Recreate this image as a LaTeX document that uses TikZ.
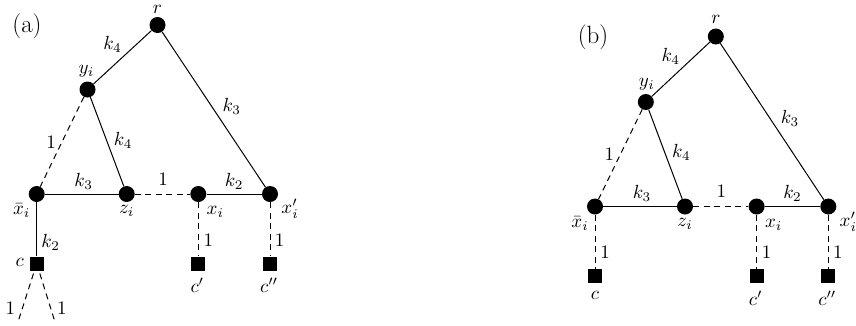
\documentclass[tikz,border=0pt]{standalone}
\newcommand\lb[1]{\scalebox{1.9}{$#1$}}
\begin{document}
\begin{tikzpicture}[x=1pt,y=-1pt,
  vtx/.style={circle,fill=black,inner sep=0pt,minimum size=16pt},
  sq/.style={rectangle,fill=black,inner sep=0pt,minimum size=14pt},
  lbl/.style={inner sep=0pt},
  ttl/.style={font=\fontsize{25}{30}\selectfont,inner sep=0pt},
  ed/.style={line width=1pt},
  dsh/.style={line width=1pt,dash pattern=on 6pt off 4.5pt},
  el/.style={lbl,midway}
]
\useasboundingbox (0,0) rectangle (856,325);

% ---------- (a) ----------
\node[ttl] (ta) at (27,26) {(a)};
\node[vtx] (ar) at (157.5,25) {};
\node[vtx] (ay) at (87.5,89.5) {};
\node[vtx] (axb) at (36.7,194) {};
\node[vtx] (az) at (126.7,194) {};
\node[vtx] (ax) at (198.3,194) {};
\node[vtx] (axp) at (270,194) {};
\node[sq] (ac) at (36.7,263.5) {};
\node[sq] (acp) at (198.3,263.5) {};
\node[sq] (acpp) at (270,263.5) {};
\coordinate (ad1) at (18,322);
\coordinate (ad2) at (55,322);

\node[lbl] (lar) at ([yshift=16pt]ar.center) {\lb{r}};
\node[lbl] (lay) at ([xshift=-1pt,yshift=18pt]ay.center) {\lb{y_i}};
\node[lbl] (laxb) at ([xshift=-15pt,yshift=-17pt]axb.center) {\lb{\bar{x}_i}};
\node[lbl] (laz) at ([yshift=-17pt]az.center) {\lb{z_i}};
\node[lbl] (lax) at ([xshift=17pt,yshift=-18pt]ax.center) {\lb{x_i}};
\node[lbl] (laxp) at ([xshift=20pt,yshift=-15pt]axp.center) {\lb{x'_i}};
\node[lbl] (lac) at ([xshift=-17pt,yshift=1pt]ac.center) {\lb{c}};
\node[lbl] (lacp) at ([xshift=-1pt,yshift=-22pt]acp.center) {\lb{c'}};
\node[lbl] (lacpp) at ([xshift=-1pt,yshift=-22pt]acpp.center) {\lb{c''}};

\draw[ed] (ar) -- node[el,xshift=-10pt,yshift=13pt] {\lb{k_4}} (ay);
\draw[ed] (ar) -- node[el,xshift=18pt,yshift=3pt] {\lb{k_3}} (axp);
\draw[dsh] (ay) -- node[el,xshift=-11pt,yshift=-0.5pt] {\lb{1}} (axb);
\draw[ed] (ay) -- node[el,xshift=16pt,yshift=1.5pt] {\lb{k_4}} (az);
\draw[ed] (axb) -- node[el,xshift=2pt,yshift=13pt] {\lb{k_3}} (az);
\draw[dsh] (az) -- node[el,xshift=0.5pt,yshift=15pt] {\lb{1}} (ax);
\draw[ed] (ax) -- node[el,yshift=13pt] {\lb{k_2}} (axp);
\draw[ed] (axb) -- node[el,xshift=14pt,yshift=-13pt] {\lb{k_2}} (ac);
\draw[dsh] (ax) -- node[el,xshift=10pt,yshift=-11pt] {\lb{1}} (acp);
\draw[dsh] (axp) -- node[el,xshift=9.5pt,yshift=-11pt] {\lb{1}} (acpp);
\draw[dsh] (ac.center) -- node[el,xshift=-17pt,yshift=-16pt] {\lb{1}} (ad1);
\draw[dsh] (ac.center) -- node[el,xshift=16pt,yshift=-16pt] {\lb{1}} (ad2);

% ---------- (b) ----------
\node[ttl] (tb) at (593,37) {(b)};
\begin{scope}[shift={(558.3,12.5)}]
\node[vtx] (br) at (157.5,24) {};
\node[vtx] (by) at (87.5,89.5) {};
\node[vtx] (bxb) at (36.7,194) {};
\node[vtx] (bz) at (126.7,194) {};
\node[vtx] (bx) at (198.3,194) {};
\node[vtx] (bxp) at (270,194) {};
\node[sq] (bc) at (36.7,263.5) {};
\node[sq] (bcp) at (198.3,263.5) {};
\node[sq] (bcpp) at (270,263.5) {};

\node[lbl] (lbr) at ([yshift=17.5pt]br.center) {\lb{r}};
\node[lbl] (lby) at ([xshift=1pt,yshift=18pt]by.center) {\lb{y_i}};
\node[lbl] (lbxb) at ([xshift=-15pt,yshift=-17pt]bxb.center) {\lb{\bar{x}_i}};
\node[lbl] (lbz) at ([yshift=-17pt]bz.center) {\lb{z_i}};
\node[lbl] (lbx) at ([xshift=17pt,yshift=-18pt]bx.center) {\lb{x_i}};
\node[lbl] (lbxp) at ([xshift=20pt,yshift=-15pt]bxp.center) {\lb{x'_i}};
\node[lbl] (lbc) at ([yshift=-19pt]bc.center) {\lb{c}};
\node[lbl] (lbcp) at ([xshift=-1pt,yshift=-22pt]bcp.center) {\lb{c'}};
\node[lbl] (lbcpp) at ([xshift=-1pt,yshift=-22pt]bcpp.center) {\lb{c''}};

\draw[ed] (br) -- node[el,xshift=-10pt,yshift=13pt] {\lb{k_4}} (by);
\draw[ed] (br) -- node[el,xshift=18pt,yshift=3pt] {\lb{k_3}} (bxp);
\draw[dsh] (by) -- node[el,xshift=-11pt,yshift=-0.5pt] {\lb{1}} (bxb);
\draw[ed] (by) -- node[el,xshift=16pt,yshift=1.5pt] {\lb{k_4}} (bz);
\draw[ed] (bxb) -- node[el,xshift=2pt,yshift=13pt] {\lb{k_3}} (bz);
\draw[dsh] (bz) -- node[el,xshift=0.5pt,yshift=15pt] {\lb{1}} (bx);
\draw[ed] (bx) -- node[el,yshift=13pt] {\lb{k_2}} (bxp);
\draw[dsh] (bxb) -- node[el,xshift=10pt,yshift=-11pt] {\lb{1}} (bc);
\draw[dsh] (bx) -- node[el,xshift=10pt,yshift=-11pt] {\lb{1}} (bcp);
\draw[dsh] (bxp) -- node[el,xshift=9.5pt,yshift=-11pt] {\lb{1}} (bcpp);
\end{scope}
\end{tikzpicture}
\end{document}
